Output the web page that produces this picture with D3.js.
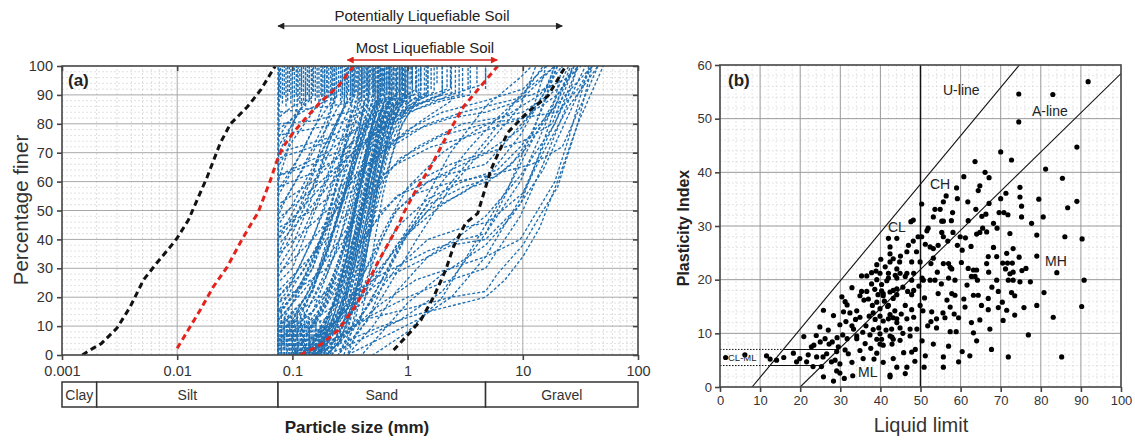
<!DOCTYPE html>
<html>
<head>
<meta charset="utf-8">
<script src="https://cdn.jsdelivr.net/npm/d3@7"></script>
<style>
  body { margin: 0; background: #fff; }
  svg { display: block; font-family: "Liberation Sans", Arial, sans-serif; }
</style>
</head>
<body>
<svg id="chart" width="1135" height="441"></svg>
<script>
// ---------- Panel (a): grain-size distribution ----------
const sizeTicks = [0.001, 0.01, 0.1, 1, 10, 100];
const sizeTickLabels = ["0.001", "0.01", "0.1", "1", "10", "100"];
const finerTicks = [0, 10, 20, 30, 40, 50, 60, 70, 80, 90, 100];

const soilBands = [
  { name: "Clay", from: 0.001, to: 0.002 },
  { name: "Silt", from: 0.002, to: 0.075 },
  { name: "Sand", from: 0.075, to: 4.75 },
  { name: "Gravel", from: 4.75, to: 100 }
];

const potentiallyRange = [0.075, 22];
const mostRange = [0.3, 6];

// Boundary curves [size mm, % finer]
const blackFine = [[0.0015,0],[0.00175,1.7],[0.0022,4],[0.003,9.3],[0.0039,16.6],[0.0051,26],[0.0067,32],[0.0087,37.4],[0.01,40.5],[0.0125,46.7],[0.0182,61.6],[0.0237,73.4],[0.029,80],[0.0405,85.8],[0.053,91.7],[0.071,100]];
const blackCoarse = [[0.756,1.7],[1.06,8],[1.3,12],[1.68,20],[2.14,29.4],[2.5,37.4],[3.2,45.7],[4.06,49],[5.27,64],[7.4,77],[11,84],[16.5,89.6],[23.6,100]];
const redFine = [[0.01,2.3],[0.0158,15.5],[0.0205,23.5],[0.0272,30.5],[0.0354,39],[0.0458,46.7],[0.05,49],[0.0645,60.5],[0.0738,67.5],[0.083,72],[0.102,77],[0.135,82.6],[0.175,87.5],[0.25,93],[0.34,100]];
const redCoarse = [[0.117,0],[0.175,3.5],[0.25,8.6],[0.367,18],[0.55,32],[0.835,45],[0.92,49],[1.22,58],[1.58,65],[2.27,77],[3.07,86],[6.06,100]];

// Tested soils [size mm, % finer]
const gradationCurves = [
  [[0.075,0],[0.075,100]],
  [[0.075,0],[0.075,60],[0.076,100]],
  [[0.075,0],[0.075,30],[0.077,100]],
  [[0.075,82],[0.1,86],[0.15,89],[0.15,100]],
  [[0.075,78],[0.12,84],[0.2,88],[0.2,100]],
  [[0.075,72],[0.1,80],[0.13,88],[0.13,100]],
  [[0.075,65],[0.1,74],[0.15,84],[0.18,89],[0.18,100]],
  [[0.075,60],[0.09,70],[0.11,86],[0.11,100]],
  [[0.075,55],[0.1,64],[0.15,78],[0.22,88],[0.22,100]],
  [[0.075,50],[0.1,58],[0.16,72],[0.25,86],[0.27,88],[0.27,100]],
  [[0.075,45],[0.1,52],[0.2,74],[0.3,88],[0.3,100]],
  [[0.075,40],[0.12,55],[0.18,70],[0.25,82],[0.32,89],[0.32,100]],
  [[0.075,35],[0.1,45],[0.15,62],[0.2,80],[0.24,90],[0.24,100]],
  [[0.075,30],[0.1,38],[0.15,55],[0.2,72],[0.3,88],[0.35,90],[0.35,100]],
  [[0.075,25],[0.1,30],[0.15,48],[0.25,70],[0.35,84],[0.4,90],[0.4,100]],
  [[0.075,20],[0.1,26],[0.15,40],[0.25,66],[0.4,86],[0.45,89],[0.45,100]],
  [[0.075,15],[0.1,20],[0.15,32],[0.3,70],[0.45,87],[0.48,100]],
  [[0.075,12],[0.1,18],[0.2,45],[0.3,65],[0.5,88],[0.5,100]],
  [[0.075,10],[0.15,22],[0.25,48],[0.4,76],[0.55,89],[0.55,100]],
  [[0.075,8],[0.12,14],[0.2,35],[0.3,58],[0.5,85],[0.6,90],[0.6,100]],
  [[0.075,5],[0.15,15],[0.25,38],[0.4,70],[0.6,88],[0.65,89],[0.65,100]],
  [[0.075,3],[0.15,10],[0.3,40],[0.45,68],[0.7,89],[0.7,100]],
  [[0.075,0],[0.075,14],[0.15,30],[0.3,62],[0.5,85],[0.58,88],[0.58,100]],
  [[0.075,84],[0.2,86],[0.4,88],[0.4,100]],
  [[0.075,80],[0.15,81],[0.3,84],[0.6,88],[0.85,90],[0.85,100]],
  [[0.075,76],[0.1,77],[0.25,80],[0.5,86],[1,90],[1,100]],
  [[0.075,70],[0.2,75],[0.42,82],[0.85,88],[1.18,92],[1.18,100]],
  [[0.075,68],[0.15,72],[0.3,76],[0.6,82],[2,90],[2,100]],
  [[0.075,62],[0.15,66],[0.3,72],[0.6,80],[1.18,86],[2.36,92],[2.36,100]],
  [[0.075,58],[0.15,63],[0.3,70],[0.6,78],[1.18,85],[2.36,90],[4.75,94],[4.75,100]],
  [[0.075,52],[0.15,60],[0.3,72],[0.425,78],[0.85,86],[1.5,91],[1.5,100]],
  [[0.1,0],[0.1,10],[0.15,22],[0.2,40],[0.3,68],[0.4,84],[0.5,90],[0.5,100]],
  [[0.11,0],[0.11,8],[0.2,30],[0.3,55],[0.4,75],[0.5,86],[0.53,88],[0.53,100]],
  [[0.12,0],[0.12,12],[0.2,28],[0.3,48],[0.4,66],[0.6,86],[0.7,90],[0.7,100]],
  [[0.13,0],[0.13,6],[0.2,18],[0.3,40],[0.425,65],[0.6,85],[0.9,92],[0.9,100]],
  [[0.14,0],[0.14,9],[0.25,25],[0.35,50],[0.5,76],[0.75,90],[0.75,100]],
  [[0.15,0],[0.15,5],[0.25,20],[0.35,42],[0.45,62],[0.6,80],[0.85,92],[0.85,100]],
  [[0.16,0],[0.16,11],[0.25,24],[0.4,50],[0.5,68],[0.7,86],[1.1,90],[1.1,100]],
  [[0.17,0],[0.17,7],[0.3,28],[0.4,48],[0.5,62],[0.6,74],[0.85,88],[1.3,91],[1.3,100]],
  [[0.18,0],[0.18,4],[0.3,22],[0.4,40],[0.55,64],[0.7,80],[1,90],[1,100]],
  [[0.19,0],[0.19,10],[0.3,30],[0.425,55],[0.6,78],[0.8,89],[0.8,100]],
  [[0.2,0],[0.2,6],[0.3,18],[0.4,36],[0.5,54],[0.7,75],[1,86],[1.4,90],[1.4,100]],
  [[0.15,0],[0.2,8],[0.3,26],[0.38,45],[0.45,60],[0.55,75],[0.68,88],[0.68,100]],
  [[0.12,0],[0.2,10],[0.3,34],[0.36,55],[0.45,74],[0.56,88],[0.56,100]],
  [[0.1,0],[0.15,5],[0.25,20],[0.3,35],[0.36,52],[0.45,72],[0.52,86],[0.52,100]],
  [[0.13,0],[0.2,4],[0.3,16],[0.4,32],[0.5,50],[0.6,66],[0.8,84],[1.25,90],[1.25,100]],
  [[0.18,0],[0.25,6],[0.35,20],[0.45,38],[0.55,55],[0.7,72],[1,86],[1.7,91],[1.7,100]],
  [[0.2,0],[0.3,10],[0.4,28],[0.5,46],[0.6,58],[0.85,78],[1.18,88],[2.2,92],[2.2,100]],
  [[0.14,0],[0.2,2],[0.3,12],[0.4,30],[0.45,42],[0.5,52],[0.65,72],[0.8,86],[0.95,89],[0.95,100]],
  [[0.16,0],[0.25,12],[0.33,30],[0.4,46],[0.47,62],[0.55,78],[0.63,88],[0.63,100]],
  [[0.1,0],[0.18,6],[0.28,24],[0.35,40],[0.42,58],[0.5,72],[0.6,82],[0.78,90],[0.78,100]],
  [[0.12,0],[0.22,8],[0.33,26],[0.43,50],[0.52,66],[0.64,80],[0.92,89],[0.92,100]],
  [[0.11,0],[0.16,3],[0.26,14],[0.35,34],[0.42,52],[0.5,66],[0.6,76],[0.75,86],[0.88,90],[0.88,100]],
  [[0.15,0],[0.2,12],[0.27,28],[0.33,44],[0.4,60],[0.46,74],[0.55,86],[0.6,90],[0.6,100]],
  [[0.13,0],[0.18,4],[0.24,12],[0.32,30],[0.4,48],[0.48,64],[0.62,82],[0.73,90],[0.73,100]],
  [[0.2,0],[0.26,5],[0.34,18],[0.42,36],[0.5,50],[0.62,66],[0.78,80],[1.05,88],[1.05,100]],
  [[0.17,0],[0.24,10],[0.32,24],[0.38,38],[0.46,56],[0.56,72],[0.7,84],[0.97,91],[0.97,100]],
  [[0.11,0],[0.11,15],[0.15,25],[0.22,42],[0.3,60],[0.37,74],[0.44,84],[0.46,88],[0.46,100]],
  [[0.09,0],[0.09,12],[0.13,20],[0.2,36],[0.28,56],[0.36,72],[0.42,88],[0.42,100]],
  [[0.08,0],[0.08,15],[0.12,24],[0.18,40],[0.25,62],[0.3,78],[0.37,90],[0.37,100]],
  [[0.085,0],[0.085,13],[0.15,30],[0.22,52],[0.28,70],[0.33,87],[0.33,100]],
  [[0.095,0],[0.095,11],[0.14,20],[0.21,38],[0.29,58],[0.38,78],[0.44,90],[0.44,100]],
  [[0.105,0],[0.105,14],[0.17,28],[0.26,50],[0.34,66],[0.43,80],[0.51,90],[0.51,100]],
  [[0.125,0],[0.125,9],[0.19,18],[0.27,36],[0.35,56],[0.45,72],[0.58,84],[0.66,90],[0.66,100]],
  [[0.14,0],[0.14,13],[0.22,26],[0.31,44],[0.39,60],[0.49,76],[0.62,86],[0.82,91],[0.82,100]],
  [[0.15,0],[0.22,10],[0.3,24],[0.36,40],[0.42,56],[0.5,70],[0.6,82],[0.7,89],[0.7,100]],
  [[0.18,0],[0.26,8],[0.34,22],[0.4,36],[0.46,50],[0.54,66],[0.66,80],[0.86,90],[0.86,100]],
  [[0.2,0],[0.28,12],[0.36,30],[0.44,48],[0.5,60],[0.58,72],[0.7,84],[0.9,90],[0.9,100]],
  [[0.22,0],[0.3,8],[0.38,24],[0.45,42],[0.52,58],[0.62,72],[0.8,84],[1.1,92],[1.1,100]],
  [[0.25,0],[0.33,10],[0.4,26],[0.48,44],[0.56,60],[0.66,74],[0.85,86],[1.2,91],[1.2,100]],
  [[0.1,0],[0.14,8],[0.2,20],[0.26,32],[0.32,46],[0.38,60],[0.45,74],[0.52,84],[0.55,89],[0.55,100]],
  [[0.13,0],[0.19,10],[0.25,22],[0.31,38],[0.37,54],[0.43,68],[0.5,80],[0.58,88],[0.58,100]],
  [[0.16,0],[0.22,6],[0.29,18],[0.35,34],[0.41,50],[0.48,66],[0.57,78],[0.72,88],[0.76,100]],
  [[0.075,0],[0.075,20],[0.12,28],[0.2,44],[0.3,58],[0.38,70],[0.46,80],[0.56,88],[0.56,100]],
  [[0.075,0],[0.075,40],[0.1,46],[0.15,58],[0.22,72],[0.3,84],[0.34,89],[0.34,100]],
  [[0.3,0],[0.38,10],[0.45,24],[0.52,40],[0.6,54],[0.72,68],[0.9,80],[1.3,90],[1.3,100]],
  [[0.28,0],[0.36,14],[0.43,32],[0.5,50],[0.58,64],[0.68,76],[0.85,86],[1.0,90],[1.0,100]],
  [[0.2,0],[0.25,4],[0.32,14],[0.38,28],[0.44,44],[0.5,58],[0.6,72],[0.74,84],[0.95,90],[0.95,100]],
  [[0.17,0],[0.23,14],[0.3,30],[0.36,46],[0.42,62],[0.48,76],[0.55,86],[0.62,89],[0.62,100]],
  [[0.075,75],[0.09,80],[0.11,84],[0.14,88],[0.14,100]],
  [[0.075,69],[0.085,74],[0.1,80],[0.12,86],[0.12,100]],
  [[0.075,57],[0.09,62],[0.12,70],[0.16,80],[0.19,88],[0.19,100]],
  [[0.075,48],[0.09,55],[0.12,64],[0.16,74],[0.21,84],[0.23,89],[0.23,100]],
  [[0.075,33],[0.1,42],[0.13,52],[0.17,64],[0.22,76],[0.28,86],[0.29,100]],
  [[0.075,27],[0.11,38],[0.15,50],[0.2,62],[0.26,74],[0.33,84],[0.38,88],[0.38,100]],
  [[0.075,18],[0.09,22],[0.12,32],[0.18,48],[0.25,64],[0.32,78],[0.4,88],[0.4,100]],
  [[0.075,62],[0.2,70],[0.35,78],[0.7,86],[1.5,90],[1.5,100]],
  [[0.075,44],[0.15,50],[0.3,60],[0.6,70],[1.2,80],[2.4,88],[2.4,100]],
  [[0.075,2],[0.15,6],[0.3,14],[0.6,30],[1.18,48],[2.36,70],[4.75,86],[9.5,96],[12,100]],
  [[0.075,4],[0.2,10],[0.425,24],[0.85,38],[2,56],[4.75,74],[9.5,90],[19,100]],
  [[0.075,6],[0.15,12],[0.3,20],[0.6,28],[1.5,36],[3,40],[4.75,42],[7,55],[10,70],[15,86],[20,100]],
  [[0.1,0],[0.2,4],[0.4,12],[1,16],[2.36,20],[4.75,22],[6,28],[10,38],[14,48],[20,58],[30,80],[40,100]],
  [[0.15,0],[0.3,8],[0.6,18],[1.18,26],[2.36,30],[4.75,34],[9.5,40],[19,60],[25,75],[37.5,100]],
  [[0.2,0],[0.4,14],[0.8,30],[1.5,40],[3,44],[5,46],[10,56],[15,72],[25,90],[30,100]],
  [[0.25,0],[0.5,20],[0.9,40],[1.5,52],[3,58],[6,62],[10,70],[19,86],[28,100]],
  [[0.3,0],[0.5,10],[0.8,22],[1.5,34],[3,42],[4.75,48],[9.5,62],[19,80],[25,92],[30,100]],
  [[0.075,8],[0.15,15],[0.3,30],[0.6,50],[1.18,60],[2.36,66],[4.75,70],[9.5,78],[15,90],[19,100]],
  [[0.075,10],[0.2,22],[0.4,40],[0.8,55],[2,62],[4.75,66],[8,76],[12,84],[16,100]],
  [[0.15,2],[0.3,12],[0.5,28],[0.8,44],[1.5,54],[3,60],[6,64],[9.5,72],[19,86],[40,100]],
  [[0.1,1],[0.25,6],[0.5,14],[1,20],[2,25],[4.75,30],[9.5,48],[15,66],[25,88],[35,100]],
  [[0.075,12],[0.15,26],[0.3,44],[0.6,62],[1.2,72],[3,80],[6,82],[10,84],[20,92],[25,100]],
  [[0.2,0],[0.35,10],[0.6,26],[1,42],[2,60],[3.5,72],[6,82],[10,90],[15,100]],
  [[0.3,2],[0.6,20],[1.2,40],[2.36,58],[4.75,72],[9.5,86],[13,100]],
  [[0.075,18],[0.2,30],[0.425,52],[0.85,68],[2,76],[4.75,80],[9.5,82],[20,84],[30,92],[40,100]],
  [[0.1,3],[0.2,8],[0.4,22],[0.6,40],[0.8,50],[1.2,56],[2.5,60],[5,62],[12,66],[22,72],[35,90],[45,100]],
  [[0.15,0],[0.3,5],[0.6,10],[1.2,14],[2.4,17],[4.75,20],[7,26],[10,34],[14,44],[20,60],[30,80],[50,100]],
  [[0.075,15],[0.15,35],[0.3,58],[0.6,72],[1.18,78],[2.36,82],[4.75,84],[9.5,88],[19,100]],
  [[0.075,22],[0.2,40],[0.4,56],[0.8,66],[1.6,72],[3,75],[5,78],[10,82],[20,90],[28,100]],
  [[0.1,2],[0.25,12],[0.5,34],[0.8,50],[1.5,60],[3,66],[5,70],[10,74],[18,80],[25,95],[27,100]],
  [[0.12,0],[0.3,16],[0.6,42],[1,58],[2,70],[4,78],[8,84],[14,90],[22,100]],
  [[0.25,0],[0.45,12],[0.7,30],[1,42],[2,52],[3.5,58],[5,60],[8,66],[12,76],[18,96],[20,100]],
  [[0.4,0],[0.6,8],[1,18],[2,28],[4.75,38],[8,48],[15,64],[30,90],[40,100]],
  [[0.075,5],[0.3,16],[0.6,26],[1.2,32],[2.4,38],[4.75,40],[9.5,52],[14,70],[20,88],[26,100]],
  [[0.15,1],[0.4,18],[0.8,38],[1.5,50],[3,56],[5,62],[9.5,76],[16,92],[19,100]],
  [[0.075,28],[0.15,40],[0.3,55],[0.6,70],[1.5,80],[3,84],[6,87],[12,90],[25,96],[32,100]],
  [[0.075,35],[0.2,50],[0.45,66],[1,78],[2,84],[4.75,88],[10,92],[16,100]],
  [[0.3,0],[0.6,6],[1.2,12],[2.4,20],[4.75,34],[9.5,54],[15,70],[25,86],[45,100]],
  [[0.5,0],[1,8],[2,20],[4,40],[8,60],[12,74],[20,90],[30,100]],
  [[0.2,0],[0.425,6],[0.85,12],[2,22],[4.75,42],[9.5,60],[15,78],[19,88],[22,100]],
  [[0.075,42],[0.15,55],[0.3,68],[0.6,80],[1.18,87],[3,90],[3,100]],
  [[0.075,47],[0.2,62],[0.5,76],[1,84],[2,88],[3.5,90],[3.5,100]],
  [[0.075,38],[0.15,52],[0.3,66],[0.5,76],[0.9,84],[1.6,89],[2.6,91],[2.6,100]]
];

// Final sieve steps to 100 % [size mm, % finer below the step]
const topRises = [[0.076,86],[0.079,89],[0.082,87],[0.085,90],[0.088,86],[0.091,88],[0.094,91],[0.097,87],[0.1,89],[0.104,86],
  [0.108,90],[0.112,88],[0.116,87],[0.12,91],[0.125,88],[0.13,86],[0.135,90],[0.14,88],[0.146,87],[0.152,91],
  [0.158,88],[0.164,89],[0.17,86],[0.177,90],[0.184,88],[0.191,87],[0.199,91],[0.207,89],[0.215,88],[0.224,90],
  [0.233,87],[0.242,89],[0.252,91],[0.262,88],[0.272,90],[0.283,87],[0.294,89],[0.306,91],[0.318,88],[0.331,90],
  [0.344,89],[0.358,91],[0.372,88],[0.387,90],[0.402,92],[0.418,89],[0.435,91],[0.452,88],[0.47,90],[0.49,92],
  [0.51,89],[0.53,91],[0.55,88],[0.575,90],[0.6,92],[0.63,89],[0.66,91],[0.69,93],[0.72,90],[0.76,92],
  [0.8,89],[0.85,91],[0.9,93],[0.95,90],[1.0,92],[1.08,94],[1.18,91],[1.3,93],[1.45,90],[1.6,92],
  [1.8,94],[2.0,91],[2.36,93],[2.8,90],[3.35,92],[4.0,94],[4.75,92]];
// First sieve steps up from 0 % [size mm, % finer above the step]
const baseRises = [[0.076,14],[0.078,10],[0.08,16],[0.083,12],[0.086,15],[0.089,11],[0.092,14],[0.095,12],[0.098,16],[0.102,13],
  [0.106,10],[0.11,15],[0.114,12],[0.118,14],[0.122,11],[0.127,15],[0.132,12],[0.137,14],[0.142,10],[0.148,13],
  [0.154,11],[0.16,14],[0.167,9],[0.174,12],[0.18,10],[0.188,8],[0.196,11]];

// ---------- Panel (b): plasticity chart ----------
const llTicks = [0, 10, 20, 30, 40, 50, 60, 70, 80, 90, 100];
const piTicks = [0, 10, 20, 30, 40, 50, 60];

// [liquid limit, plasticity index]
const plPoints = [
  [91.8,56.9],[74.5,54.6],[83,54.5],[74.5,49.4],[89,44.7],[70,43.8],[72.7,42.3],[63.6,42],[81.2,40.6],[66.1,40],
  [67.1,39],[85.4,38.9],[60.8,39.2],[59,37.1],[64.8,37.5],[64.4,36.6],[74.8,37.2],[71.3,36.1],[70,35.1],[74.8,35.4],
  [79.5,35],[56.4,35.6],[55.7,34.5],[59.2,35.1],[61.8,34.5],[50.3,34.1],[67.1,34.2],[89,34.6],[86.7,33.4],[75.2,33.7],
  [53.6,33.1],[54.9,33.1],[58,32.5],[63.8,33.1],[66.3,32.2],[69.6,32.5],[70.8,32.5],[71.8,32.1],[80.6,31.7],[75.2,31.7],
  [48.2,31.1],[47.6,30.8],[53.2,31.7],[55.3,30.9],[55.7,30.9],[57.7,31],[61.9,31],[65.3,31.8],[68.2,30.5],[69.1,29.6],
  [77.7,30.5],[65.5,29.6],[66.5,28.9],[51.9,29.6],[44.1,27.7],[49.4,28],[50.3,28],[51.6,29.1],[55.3,28.8],[55.7,28],
  [58.1,28.8],[59.9,28],[64,28.5],[64.8,28.8],[72.3,28.6],[79,28.3],[86,28],[90.3,27.6],
  [46.6,25.2],[49,25.2],[52.4,26.1],[53.2,25.8],[54.4,26.4],[59.2,26.4],[60.4,25.5],[66.9,24.3],[69,24.3],[71.5,24.9],
  [73.1,25.8],[42.4,23.3],[44.8,23.3],[47.8,23.3],[49.9,23.3],[53.2,24],[55.7,23],[57,23],[57.4,22.3],[57.8,22],
  [61.9,22.1],[63.2,21.8],[64,21.8],[66.5,23],[67,21.4],[70.5,23.1],[71.7,23.1],[72.9,23.1],[71.2,22],[75.3,21.7],
  [76.3,22.1],[79,24.4],[84,21.3],[90.8,19.9],[39.9,21.2],[42,21.2],[44.9,21.2],[46.6,21.2],[48.3,21.2],[50.4,20.3],
  [42,20.3],[44.1,20.3],[46.2,20.6],[40.7,17.4],[43.2,18],[44.1,17.2],[47.8,19.9],[48.3,18],[47.8,17.2],[50.7,19.9],
  [52.4,19.9],[53.6,19.9],[57,20.3],[58.6,19.9],[54.4,17.4],[57.8,17.4],[58.6,17.1],[62.7,20.6],[63.6,20.6],[64.2,19.9],
  [63.2,17.1],[64.4,17.1],[66.9,16.5],[69.4,17.8],[69,19.9],[71.9,19.9],[73.1,19.9],[74.8,19.6],[72.3,21.1],[73.1,21.4],
  [72.7,17.6],[73.5,17],[71.5,14.3],[73.5,13.4],[75.8,14.8],[79,15.2],[90.2,15],[66.9,14.4],[69.4,14.8],[42,15.2],
  [46.2,15.2],[47.8,14.4],[49.9,15.2],[52.8,14],[57.4,14.9],[61.1,14.9],[42,12.7],[44.1,12.7],[46.6,12.7],[48.3,13],
  [54,12.7],[56.1,12.9],[59.5,12.9],[62.7,12],[64.8,12.5],[83.1,13],[44.9,11],[47.4,10.8],[54,11],[57.4,10.3],
  [58.9,10.3],[63.2,10.1],[67.3,10.8],[76.9,9.7],[39.9,9.9],[42.9,9.3],[44.9,8.7],[47.4,9.5],[49.1,10.8],[39.9,8],
  [42.9,8],[53.2,8],[57,7.6],[47.8,6.5],[48.7,7],[67.7,7],[62.3,5.8],[71.9,5.6],[85.2,5.6],[51.2,5.8],
  [55.7,5.6],[43.2,5.3],[40.7,4.6],[44.1,3.7],[46.6,3.7],[50.9,3.7],[55.7,3.7],[59.5,4.7],[42.4,2.2],[46.2,2.5],
  [1.4,5.5],[6.2,6.0],[11.6,5.8],[12.5,5.2],[14.1,5],[15.9,5.5],[18.3,6.3],[19.1,4.7],[19.9,5.3],[20.9,9.4],
  [22.8,7.5],[23.4,7.8],[21.6,4.7],[23.2,3.8],[24.1,5.6],[25.7,5.6],[24.9,11.2],[25.8,14.3],[25.3,3.8],[25.8,1.9],
  [26.6,6.2],[27.8,4.7],[27,10.6],[28.3,13.3],[28.7,5],[29.1,6.6],[29.5,7.5],[28.3,1.1],[29.1,3],[29.9,2.6],
  [29.9,4.3],[30.4,16.8],[31.2,15.9],[31.7,15.3],[32.9,18.5],[29.9,11.6],[30.6,9.7],[31.7,9],[31.2,6.9],[32,6.2],
  [32.9,4.6],[33.1,2.1],[32.9,11.4],[33.3,10.8],[34.1,9.5],[34.1,9],[34.9,13],[34.1,14.2],[34.9,17],[35.3,17.8],
  [35.9,16.2],[36.6,17.8],[37,16.4],[34.9,6.8],[35.7,5.3],[36.2,8.1],[37.4,9.7],[38.2,10.7],
  [35.3,20.7],[36.6,20.7],[37.8,21.3],[39.1,22.8],[39.1,20],[40.3,19.1],[40.3,17.9],[40.7,17],[39.1,15.8],[39.9,14.6],
  [38.2,13.8],[38.7,12.6],[39.9,13.2],[40.7,12.3],[42.4,13.5],[43.2,12.9],[44.1,12],[39.1,8.9],[40.3,8.9],[42.4,9.5],
  [43.2,8.9],[39.1,6.3],[40.7,7.8],[42.4,1.9],[42,27.7],[42.4,26.1],[42.4,24.8],[43.2,23.9],[44.1,22],
  [43.7,20.8],[42.4,17.7],[44.1,18.3],[43.2,16.5],
  [37.8,19.2],[38.6,18.2],[39.4,17.2],[38.9,21.6],[40.1,23.8],[41.2,22.4],[41.6,19.8],[41,16],[41.8,15],[38,15.2],
  [37.2,13.2],[36.4,11.4],[35.6,10.2],[33.8,12.6],[32.4,13.8],[31.4,12.2],[30.8,14],[29.2,9.2],[28,8.4],[27.2,8],
  [26.2,9],[25,8.4],[24,9.6],[22,6],[37.6,7.2],[38.4,5.2],[31,1.6],[39.6,11],
  [41.4,10.6],[42.8,10.8],[43.6,14.2],[45.2,13.6],[45.6,10],[45.8,6.4],[48.6,4.8],[50.4,8.6],[51.8,11.4],[52.6,12.2],
  [50.6,14.2],[51,16.6],[49.6,18.8],[46.8,17.8],[45.6,18.6],[45,24.4],[47,26.4],[48.2,27.2],[51.2,26.6],[52.6,23],
  [54.2,21.4],[55.2,19.2],[56.6,16.2],[55.6,13.8],[58.4,13.6],[60.8,16.4],[61.6,19],[60.2,23.2],[62.6,26.2],[61.2,27.8],
  [56.8,27.2],[68.2,26],[67.8,18.6],[70.4,15.8],[65.2,15.2],[64,8.6],[60.4,6.6],[70.6,12.4],[74.6,24.2],[77.4,19.6],
  [80.8,17.6]
];

// Casagrande chart reference lines
const uLineLL = [8, 74.67];
const aLineLL = [20, 100];
const clmlBand = [4, 7];
const highPlasticityLL = 50;

const svg = d3.select("#chart");
const FONT = "Liberation Sans, Arial, sans-serif";

// ================= Panel (a) =================
const xA = d3.scaleLog().domain([0.001, 100]).range([62, 638]);
const yA = d3.scaleLinear().domain([0, 100]).range([355, 66]);
const gA = svg.append("g");

// minor grid
const minorSizes = [];
[0.001, 0.01, 0.1, 1, 10].forEach(d => { for (let k = 2; k <= 9; k++) minorSizes.push(d * k); });
gA.append("g").selectAll("line").data(minorSizes).join("line")
  .attr("x1", d => xA(d)).attr("x2", d => xA(d)).attr("y1", yA(0)).attr("y2", yA(100))
  .attr("stroke", "#cfcfcf").attr("stroke-width", 0.7).attr("stroke-dasharray", "2,2");
const minorFiner = d3.range(2, 100, 2).filter(v => v % 10 !== 0);
gA.append("g").selectAll("line").data(minorFiner).join("line")
  .attr("x1", xA(0.001)).attr("x2", xA(100)).attr("y1", d => yA(d)).attr("y2", d => yA(d))
  .attr("stroke", "#d4d4d4").attr("stroke-width", 0.7).attr("stroke-dasharray", "2,2");
// major grid
gA.append("g").selectAll("line").data(sizeTicks.slice(1, -1)).join("line")
  .attr("x1", d => xA(d)).attr("x2", d => xA(d)).attr("y1", yA(0)).attr("y2", yA(100))
  .attr("stroke", "#a8a8a8").attr("stroke-width", 1);
gA.append("g").selectAll("line").data(finerTicks.slice(1, -1)).join("line")
  .attr("x1", xA(0.001)).attr("x2", xA(100)).attr("y1", d => yA(d)).attr("y2", d => yA(d))
  .attr("stroke", "#a8a8a8").attr("stroke-width", 1);

const clipA = svg.append("clipPath").attr("id", "clipA");
clipA.append("rect").attr("x", xA(0.001)).attr("y", yA(100)).attr("width", xA(100) - xA(0.001)).attr("height", yA(0) - yA(100));

const lineA = d3.line().x(d => xA(d[0])).y(d => yA(d[1]));
const curveG = gA.append("g").attr("clip-path", "url(#clipA)");
const BLUE = "#2070b2";
curveG.selectAll("path.soil").data(gradationCurves).join("path")
  .attr("class", "soil")
  .attr("d", lineA)
  .attr("fill", "none").attr("stroke", BLUE).attr("stroke-width", 1.35)
  .attr("stroke-dasharray", "3,2")
  .attr("stroke-dashoffset", (d, i) => i % 4);
curveG.selectAll("line.top").data(topRises).join("line")
  .attr("class", "top")
  .attr("x1", d => xA(d[0])).attr("x2", d => xA(d[0])).attr("y1", d => yA(d[1])).attr("y2", yA(100))
  .attr("stroke", BLUE).attr("stroke-width", 1.35).attr("stroke-dasharray", "3,1.5");
curveG.selectAll("line.base").data(baseRises).join("line")
  .attr("class", "base")
  .attr("x1", d => xA(d[0])).attr("x2", d => xA(d[0])).attr("y1", yA(0)).attr("y2", d => yA(d[1]))
  .attr("stroke", BLUE).attr("stroke-width", 1.35).attr("stroke-dasharray", "3,1.5");

const bounds = [
  { pts: blackFine, color: "#111" },
  { pts: blackCoarse, color: "#111" },
  { pts: redFine, color: "#e3231c" },
  { pts: redCoarse, color: "#e3231c" }
];
curveG.selectAll("path.bound").data(bounds).join("path")
  .attr("class", "bound")
  .attr("d", d => lineA(d.pts))
  .attr("fill", "none").attr("stroke", d => d.color).attr("stroke-width", 3)
  .attr("stroke-dasharray", "6,4");

// frame
gA.append("rect").attr("x", xA(0.001)).attr("y", yA(100)).attr("width", xA(100) - xA(0.001)).attr("height", yA(0) - yA(100))
  .attr("fill", "none").attr("stroke", "#444").attr("stroke-width", 1.6);

// axes
const axA_left = gA.append("g").attr("transform", `translate(${xA(0.001)},0)`)
  .call(d3.axisLeft(yA).tickValues(finerTicks).tickSize(5).tickPadding(4));
const axA_bottom = gA.append("g").attr("transform", `translate(0,${yA(0)})`)
  .call(d3.axisBottom(xA).tickValues(sizeTicks).tickFormat((d, i) => sizeTickLabels[i]).tickSize(5).tickPadding(6));
const axA_right = gA.append("g").attr("transform", `translate(${xA(100)},0)`)
  .call(d3.axisLeft(yA).tickValues(finerTicks).tickSize(5).tickFormat(""));
const axA_top = gA.append("g").attr("transform", `translate(0,${yA(100)})`)
  .call(d3.axisBottom(xA).tickValues(sizeTicks).tickSize(5).tickFormat(""));
[axA_left, axA_bottom, axA_right, axA_top].forEach(a => {
  a.select(".domain").remove();
  a.selectAll(".tick line").attr("stroke", "#444").attr("stroke-width", 1.6);
  a.selectAll("text").attr("font-size", 14.5).attr("fill", "#333").attr("font-family", FONT);
});

// soil classification strip
const bandG = gA.append("g");
bandG.selectAll("rect").data(soilBands).join("rect")
  .attr("x", d => xA(d.from)).attr("y", 382).attr("width", d => xA(d.to) - xA(d.from)).attr("height", 25)
  .attr("fill", "#fff").attr("stroke", "#333").attr("stroke-width", 1.5);
bandG.selectAll("text").data(soilBands).join("text")
  .attr("x", d => (xA(d.from) + xA(d.to)) / 2).attr("y", 400)
  .attr("text-anchor", "middle").attr("font-size", 14).attr("fill", "#333").text(d => d.name);

// axis titles
gA.append("text").attr("transform", `translate(28,210) rotate(-90)`).attr("text-anchor", "middle")
  .attr("font-size", 20.5).attr("fill", "#333").text("Percentage finer");
gA.append("text").attr("x", 357).attr("y", 433).attr("text-anchor", "middle")
  .attr("font-size", 17).attr("font-weight", "bold").attr("fill", "#222").text("Particle size (mm)");
gA.append("text").attr("x", 68).attr("y", 86).attr("font-size", 17).attr("font-weight", "bold").attr("fill", "#222").text("(a)");

// range arrows
const defs = svg.append("defs");
function arrowMarker(id, color, orient) {
  defs.append("marker").attr("id", id).attr("viewBox", "0 0 10 10").attr("refX", 9).attr("refY", 5)
    .attr("markerWidth", 9).attr("markerHeight", 7).attr("markerUnits", "userSpaceOnUse").attr("orient", orient)
    .append("path").attr("d", "M0,0 L10,5 L0,10 Z").attr("fill", color);
}
arrowMarker("arrK", "#222", "auto-start-reverse");
arrowMarker("arrR", "#d9231b", "auto-start-reverse");
gA.append("line").attr("x1", xA(potentiallyRange[0])).attr("x2", xA(potentiallyRange[1])).attr("y1", 26).attr("y2", 26)
  .attr("stroke", "#222").attr("stroke-width", 1.2).attr("marker-start", "url(#arrK)").attr("marker-end", "url(#arrK)");
gA.append("text").attr("x", 422).attr("y", 21).attr("text-anchor", "middle").attr("font-size", 15).attr("fill", "#222")
  .text("Potentially Liquefiable Soil");
gA.append("line").attr("x1", xA(mostRange[0])).attr("x2", xA(mostRange[1])).attr("y1", 60).attr("y2", 60)
  .attr("stroke", "#d9231b").attr("stroke-width", 1.6).attr("marker-start", "url(#arrR)").attr("marker-end", "url(#arrR)");
gA.append("text").attr("x", 425).attr("y", 53).attr("text-anchor", "middle").attr("font-size", 15).attr("fill", "#222")
  .text("Most Liquefiable Soil");

// ================= Panel (b) =================
const xB = d3.scaleLinear().domain([0, 100]).range([720, 1121]);
const yB = d3.scaleLinear().domain([0, 60]).range([387, 65]);
const gB = svg.append("g");

const minorLL = d3.range(2, 100, 2).filter(v => v % 10 !== 0);
const minorPI = d3.range(2, 60, 2).filter(v => v % 10 !== 0);
gB.append("g").selectAll("line").data(minorLL).join("line")
  .attr("x1", d => xB(d)).attr("x2", d => xB(d)).attr("y1", yB(0)).attr("y2", yB(60))
  .attr("stroke", "#dadada").attr("stroke-width", 0.7).attr("stroke-dasharray", "2,2");
gB.append("g").selectAll("line").data(minorPI).join("line")
  .attr("x1", xB(0)).attr("x2", xB(100)).attr("y1", d => yB(d)).attr("y2", d => yB(d))
  .attr("stroke", "#dadada").attr("stroke-width", 0.7).attr("stroke-dasharray", "2,2");
gB.append("g").selectAll("line").data(llTicks.slice(1, -1)).join("line")
  .attr("x1", d => xB(d)).attr("x2", d => xB(d)).attr("y1", yB(0)).attr("y2", yB(60))
  .attr("stroke", "#999").attr("stroke-width", 1);
gB.append("g").selectAll("line").data(piTicks.slice(1, -1)).join("line")
  .attr("x1", xB(0)).attr("x2", xB(100)).attr("y1", d => yB(d)).attr("y2", d => yB(d))
  .attr("stroke", "#999").attr("stroke-width", 1);

const clipB = svg.append("clipPath").attr("id", "clipB");
clipB.append("rect").attr("x", xB(0)).attr("y", yB(60)).attr("width", xB(100) - xB(0)).attr("height", yB(0) - yB(60));
const refG = gB.append("g").attr("clip-path", "url(#clipB)");

const uPI = ll => 0.9 * (ll - 8);
const aPI = ll => 0.73 * (ll - 20);
const refLines = [
  [[uLineLL[0], uPI(uLineLL[0])], [uLineLL[1], uPI(uLineLL[1])]],
  [[aLineLL[0], aPI(aLineLL[0])], [aLineLL[1], aPI(aLineLL[1])]],
  [[highPlasticityLL, 0], [highPlasticityLL, 60]]
];
const lineB = d3.line().x(d => xB(d[0])).y(d => yB(d[1]));
refG.selectAll("path.ref").data(refLines).join("path").attr("class", "ref")
  .attr("d", lineB).attr("fill", "none").attr("stroke", "#111").attr("stroke-width", (d, i) => i === 2 ? 1.5 : 1.1);

// CL-ML band
clmlBand.forEach(pi => {
  const llU = pi / 0.9 + 8, llA = pi / 0.73 + 20;
  refG.append("path").attr("d", lineB([[0, pi], [llU, pi]])).attr("fill", "none")
    .attr("stroke", "#111").attr("stroke-width", 1).attr("stroke-dasharray", "1.5,1.5");
  refG.append("path").attr("d", lineB([[llU, pi], [llA, pi]])).attr("fill", "none")
    .attr("stroke", "#111").attr("stroke-width", 1.1);
});

// points
gB.append("g").selectAll("circle").data(plPoints).join("circle")
  .attr("cx", d => xB(d[0])).attr("cy", d => yB(d[1])).attr("r", 2.6).attr("fill", "#000");

// frame
gB.append("rect").attr("x", xB(0)).attr("y", yB(60)).attr("width", xB(100) - xB(0)).attr("height", yB(0) - yB(60))
  .attr("fill", "none").attr("stroke", "#444").attr("stroke-width", 1.6);

const axB_left = gB.append("g").attr("transform", `translate(${xB(0)},0)`)
  .call(d3.axisLeft(yB).tickValues(piTicks).tickSize(5).tickPadding(3));
const axB_bottom = gB.append("g").attr("transform", `translate(0,${yB(0)})`)
  .call(d3.axisBottom(xB).tickValues(llTicks).tickSize(5).tickPadding(4));
[axB_left, axB_bottom].forEach(a => {
  a.select(".domain").remove();
  a.selectAll(".tick line").attr("stroke", "#444").attr("stroke-width", 1.6);
  a.selectAll("text").attr("font-size", 13).attr("fill", "#333").attr("font-family", FONT);
});

gB.append("text").attr("x", 921).attr("y", 432).attr("text-anchor", "middle").attr("font-size", 20).attr("fill", "#333").text("Liquid limit");
gB.append("text").attr("transform", "translate(689,228) rotate(-90)").attr("text-anchor", "middle")
  .attr("font-size", 16).attr("font-weight", "bold").attr("fill", "#222").text("Plasticity Index");
gB.append("text").attr("x", 728).attr("y", 86).attr("font-size", 17).attr("font-weight", "bold").attr("fill", "#222").text("(b)");

const zoneLabels = [
  { t: "U-line", x: 943, y: 95, s: 14 },
  { t: "A-line", x: 1032, y: 116, s: 14 },
  { t: "CH", x: 930, y: 189, s: 14 },
  { t: "CL", x: 888, y: 232, s: 14 },
  { t: "MH", x: 1045, y: 266, s: 14 },
  { t: "ML", x: 858, y: 377, s: 14 },
  { t: "CL-ML", x: 728, y: 361, s: 9.5 }
];
gB.append("g").selectAll("text").data(zoneLabels).join("text")
  .attr("x", d => d.x).attr("y", d => d.y).attr("font-size", d => d.s).attr("fill", "#222").text(d => d.t);
</script>
</body>
</html>
